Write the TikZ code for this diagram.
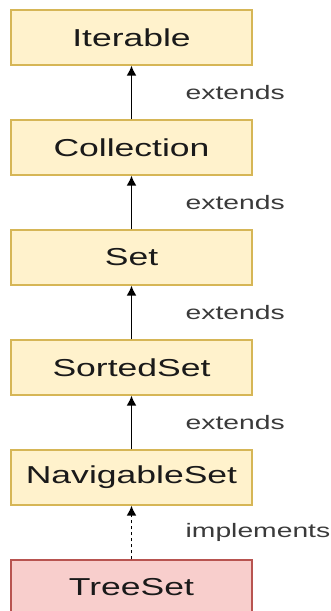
\documentclass[tikz,border=0pt]{standalone}
\usepackage{fontspec}
\setmainfont[FakeStretch=1.45]{Liberation Sans}
\usetikzlibrary{positioning, arrows.meta}

\definecolor{ifacefill}{HTML}{FFF2CC}
\definecolor{ifaceline}{HTML}{D6B656}
\definecolor{implfill}{HTML}{F8CECC}
\definecolor{implline}{HTML}{B85450}
\definecolor{boxtext}{HTML}{1A1A1A}
\definecolor{reltext}{HTML}{3A3A3A}

\tikzset{
	iface/.style = {draw = ifaceline, fill = ifacefill, line width = 1.2pt,
		minimum width = 241pt, minimum height = 55pt, inner sep = 0pt,
		text = boxtext, font = \fontsize{24.5}{24.5}\selectfont},
	impl/.style = {iface, draw = implline, fill = implfill},
	rel/.style = {right = 50pt, text = reltext, font = \fontsize{19.5}{19.5}\selectfont}
}

\begin{document}
\begin{tikzpicture}[> = {Latex[length = 10pt, width = 10pt]}, node distance = 53.8pt]

	\useasboundingbox (0, 0) rectangle (331pt, -611pt);

	\node [iface] (iterable) at (131.5pt, -37.5pt) {Iterable};
	\node [iface, below = of iterable] (collection) {Collection};
	\node [iface, below = of collection] (set) {Set};
	\node [iface, below = of set] (sortedset) {SortedSet};
	\node [iface, below = of sortedset] (navigableset) {NavigableSet};
	\node [impl, below = of navigableset] (treeset) {TreeSet};

	\begin{scope}[->, line width = 1.7pt]

		\draw (collection) -- node [rel] {extends} (iterable);
		\draw (set) -- node [rel] {extends} (collection);
		\draw (sortedset) -- node [rel] {extends} (set);
		\draw (navigableset) -- node [rel] {extends} (sortedset);
		\draw [dash pattern = on 3pt off 3pt] (treeset) -- node [rel] {implements} (navigableset);

	\end{scope}

\end{tikzpicture}
\end{document}
